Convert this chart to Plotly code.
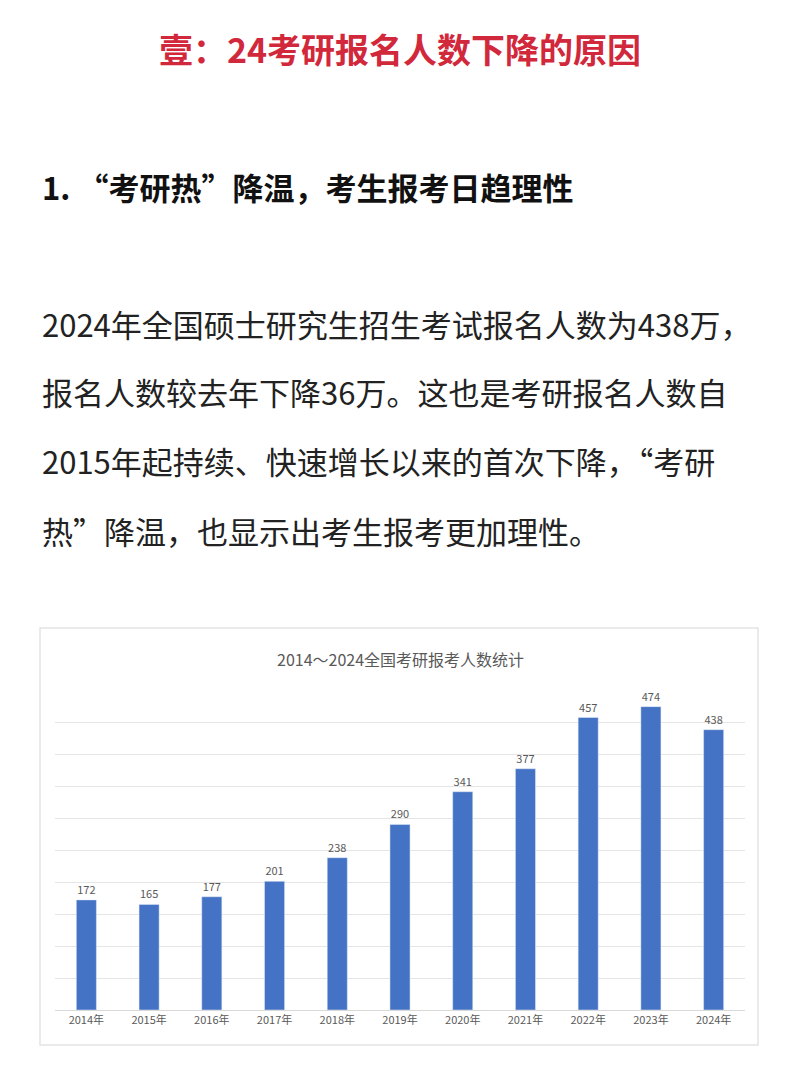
import plotly.graph_objects as go

W, H = 800, 1072
OFF = 8  # page body margin

years = ["2014年", "2015年", "2016年", "2017年", "2018年", "2019年",
         "2020年", "2021年", "2022年", "2023年", "2024年"]
counts = [172, 165, 177, 201, 238, 290, 341, 377, 457, 474, 438]

page_title = "壹：24考研报名人数下降的原因"
heading = "1. “考研热”降温，考生报考日趋理性"
para_lines = [
    "2024年全国硕士研究生招生考试报名人数为438万，",
    "报名人数较去年下降36万。这也是考研报名人数自",
    "2015年起持续、快速增长以来的首次下降，“考研",
    "热”降温，也显示出考生报考更加理性。",
]
chart_title = "2014～2024全国考研报考人数统计"


def py(y):
    # pixel y on screen -> paper fraction
    return 1 - (y - OFF) / H


def px_(x):
    return (x - OFF) / W


font = "Noto Sans CJK SC"

fig = go.Figure(go.Bar(
    x=years, y=counts, width=0.32, marker_color="#4472C4",
    text=counts, textposition="outside",
    textfont=dict(size=11, color="#595959", family=font),
    cliponaxis=False,
))

ann = [
    dict(x=px_(400), y=py(48), text=f"<b>{page_title}</b>",
         font=dict(size=34, color="#D2283C", family=font)),
    dict(x=px_(40), y=py(187), text=f"<b>{heading}</b>", xanchor="left",
         font=dict(size=31, color="#111111", family=font)),
    dict(x=px_(400), y=py(659), text=chart_title,
         font=dict(size=16, color="#595959", family=font)),
]
for i, line in enumerate(para_lines):
    ann.append(dict(x=px_(40), y=py(323 + i * 69), text=line, xanchor="left",
                    font=dict(size=31, color="#222222", family=font)))
for a in ann:
    a.update(xref="paper", yref="paper", showarrow=False, yanchor="middle")
    a.setdefault("xanchor", "center")

fig.update_layout(
    width=W, height=H, margin=dict(l=0, r=0, t=0, b=0),
    paper_bgcolor="white", plot_bgcolor="white",
    showlegend=False, annotations=ann,
    shapes=[
        dict(type="rect", xref="paper", yref="paper",
             x0=px_(40), x1=px_(758), y0=py(1045), y1=py(628),
             line=dict(color="#E3E3E3", width=1.5)),
        dict(type="rect", xref="paper", yref="paper",
             x0=px_(793), x1=px_(799), y0=py(230), y1=py(60),
             fillcolor="#BDBDBD", line=dict(width=0)),
    ],
    xaxis=dict(domain=[px_(55), px_(745)], showgrid=False, showline=True,
               linecolor="#D9D9D9", ticks="",
               tickfont=dict(size=11, color="#595959", family=font)),
    yaxis=dict(domain=[py(1010), py(690)], range=[0, 500], dtick=50,
               showticklabels=False, gridcolor="#E5E5E5", zeroline=False),
)

fig.write_html("out.html")
